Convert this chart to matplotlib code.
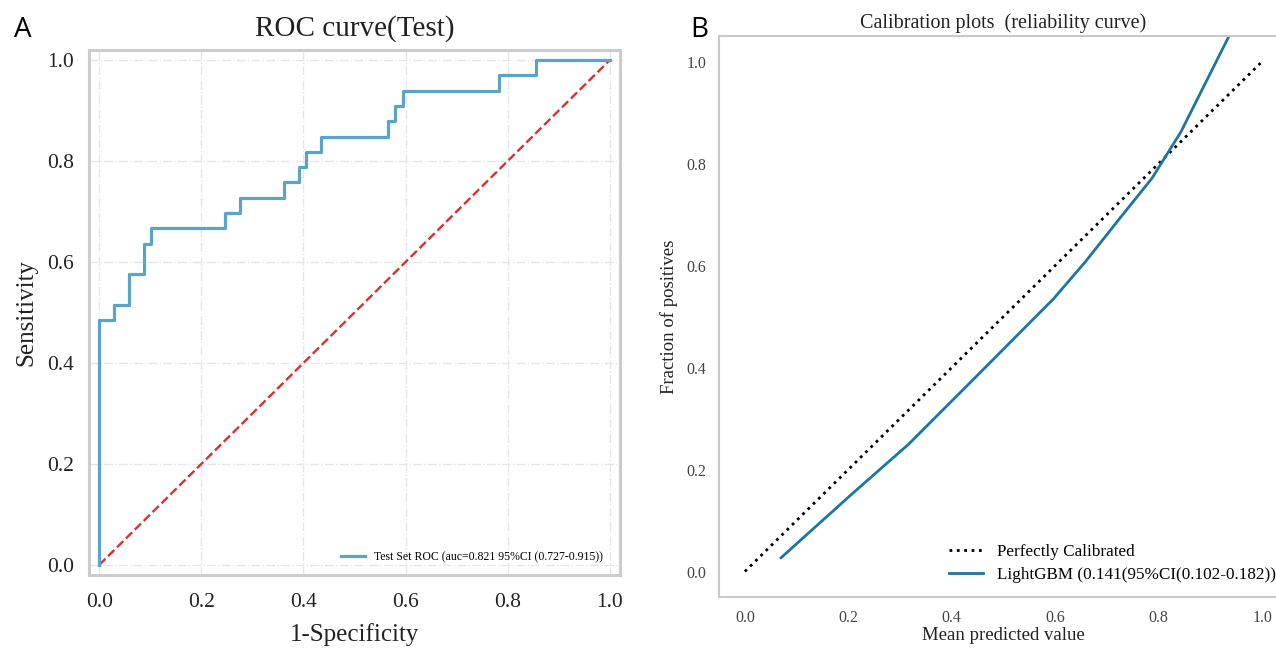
import numpy as np
import matplotlib
matplotlib.use('Agg')
import matplotlib.pyplot as plt

plt.rcParams['font.family'] = ['Liberation Serif', 'DejaVu Serif']

# ROC (test set): 69 negatives, 33 positives
n_neg = 69
n_pos = 33
fp_counts = [0, 0, 2, 2, 4, 4, 6, 6, 7, 7, 17, 17, 19, 19, 25, 25, 27, 27, 28, 28,
             30, 30, 39, 39, 40, 40, 41, 41, 54, 54, 59, 59, 69]
tp_counts = [0, 16, 16, 17, 17, 19, 19, 21, 21, 22, 22, 23, 23, 24, 24, 25, 25, 26, 26, 27,
             27, 28, 28, 29, 29, 30, 30, 31, 31, 32, 32, 33, 33]
roc_label = 'Test Set ROC (auc=0.821 95%CI (0.727-0.915))'

# calibration curve (smoothed)
cal_x = [0.070, 0.207, 0.317, 0.445, 0.597, 0.658, 0.726, 0.787, 0.843, 0.94]
cal_y = [0.027, 0.152, 0.250, 0.380, 0.535, 0.607, 0.694, 0.771, 0.862, 1.058]
cal_label = 'LightGBM (0.141(95%CI(0.102-0.182))'

ticks = [0.0, 0.2, 0.4, 0.6, 0.8, 1.0]

fig = plt.figure(figsize=(12.76, 6.48), dpi=100)

# ---------- A: ROC ----------
ax1 = fig.add_axes([89/1276, 73/648, 531/1276, 525/648])
fpr = np.array(fp_counts) / n_neg
tpr = np.array(tp_counts) / n_pos
ax1.plot(fpr, tpr, color='#5aa4c8', lw=2.3, label=roc_label, zorder=3)
ax1.plot([0, 1], [0, 1], color='#d9302f', lw=1.7, ls='--', zorder=2)
ax1.set_xlim(-0.02, 1.02)
ax1.set_ylim(-0.02, 1.02)
ax1.set_xticks(ticks)
ax1.set_yticks(ticks)
ax1.grid(True, color='#e6e6e6', ls='-.', lw=1.0)
ax1.set_axisbelow(True)
for s in ax1.spines.values():
    s.set_color('#cccccc')
    s.set_linewidth(2.2)
ax1.tick_params(length=0, labelsize=15.5, labelcolor='#222222')
ax1.tick_params(axis='y', pad=11)
ax1.tick_params(axis='x', pad=13)
ax1.set_title('ROC curve(Test)', fontsize=21, color='#222222', pad=10)
ax1.set_xlabel('1-Specificity', fontsize=18, color='#222222', labelpad=8)
ax1.set_ylabel('Sensitivity', fontsize=18, color='#222222', labelpad=7)
ax1.legend(loc='lower right', bbox_to_anchor=(0.977, 0.013), borderaxespad=0,
           frameon=False, fontsize=8.5)

# ---------- B: calibration ----------
ax2 = fig.add_axes([719/1276, 51/648, 569/1276, 561/648])
ax2.plot([0, 1], [0, 1], color='black', ls=':', lw=2.0, label='Perfectly Calibrated')
ax2.plot(cal_x, cal_y, color='#1a76a6', lw=2.0, label=cal_label)
ax2.set_xlim(-0.05, 1.05)
ax2.set_ylim(-0.05, 1.05)
ax2.set_xticks(ticks)
ax2.set_yticks(ticks)
for s in ax2.spines.values():
    s.set_color('#c8c8c8')
    s.set_linewidth(1.5)
ax2.tick_params(length=0, labelsize=11.5, labelcolor='#444444')
ax2.tick_params(axis='y', pad=9)
ax2.tick_params(axis='x', pad=9)
ax2.set_title('Calibration plots  (reliability curve)', fontsize=14.5, color='#222222', pad=6)
ax2.set_xlabel('Mean predicted value', fontsize=13.5, color='#222222', labelpad=1)
ax2.set_ylabel('Fraction of positives', fontsize=13.5, color='#222222', labelpad=6)
ax2.legend(loc='lower left', bbox_to_anchor=(0.392, 0.0125), borderaxespad=0,
           frameon=False, fontsize=12.3, labelspacing=0.4)

# panel letters
fig.text(23/1276, 1 - 37/648, 'A', fontsize=20, family='Open Sans', ha='center', va='baseline')
fig.text(699/1276, 1 - 37/648, 'B', fontsize=20, family='Open Sans', ha='center', va='baseline')

fig.savefig('out.png', dpi=100)
